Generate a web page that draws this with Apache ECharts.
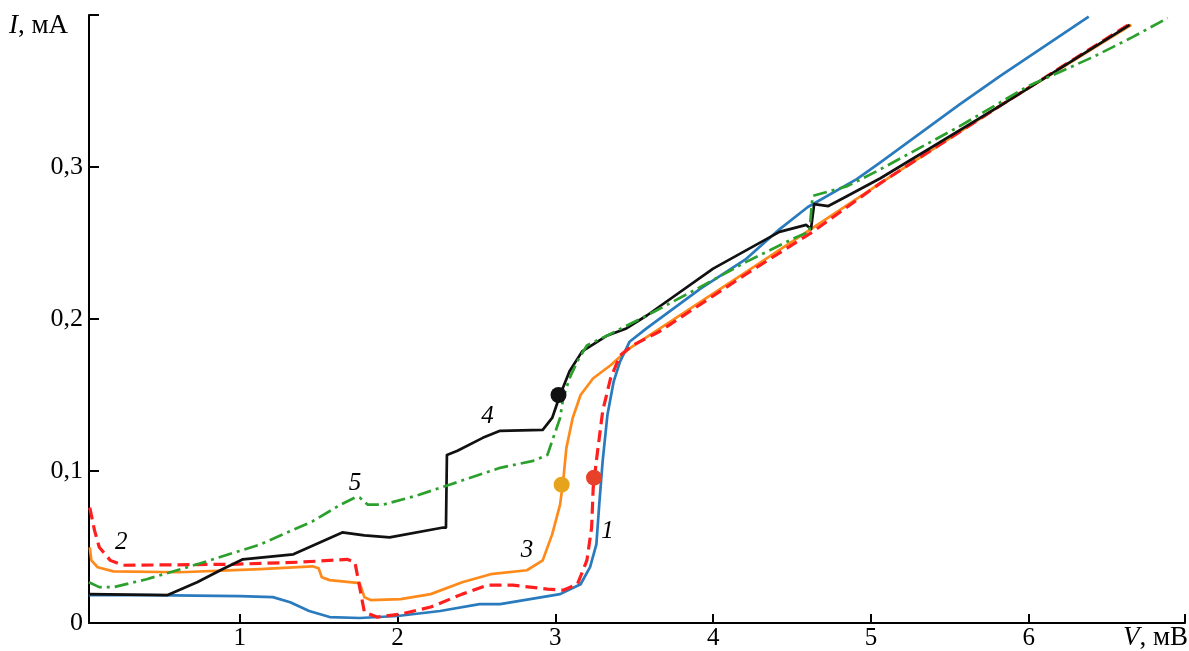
<!DOCTYPE html>
<html>
<head>
<meta charset="utf-8">
<script src="https://cdn.jsdelivr.net/npm/echarts@6/dist/echarts.min.js"></script>
<style>
html,body{margin:0;padding:0;background:#fff;}
#chart{width:1189px;height:651px;}
</style>
</head>
<body>
<div id="chart"></div>
<script>
// Curve 1 (blue, solid)
const v1 = [0.044,0.43,1.0,1.21,1.32,1.44,1.57,1.76,2.0,2.27,2.52,2.65,2.84,3.03,3.16,3.22,3.26,3.28,3.30,3.33,3.37,3.41,3.47,3.58,3.92,4.21,4.42,4.60,4.91,5.06,5.56,5.82,6.38];
const i1 = [0.0183,0.0183,0.0177,0.017,0.0137,0.0079,0.0039,0.0033,0.0046,0.0079,0.0124,0.0124,0.0157,0.019,0.0255,0.0367,0.0517,0.0805,0.1067,0.1368,0.159,0.172,0.185,0.194,0.22,0.2396,0.259,0.2737,0.292,0.303,0.341,0.360,0.399];
// Curve 2 (red, dashed)
const v2 = [0.05,0.08,0.11,0.18,0.26,0.94,1.38,1.68,1.73,1.76,1.79,1.87,2.02,2.21,2.41,2.57,2.73,2.95,3.05,3.14,3.20,3.23,3.24,3.26,3.30,3.35,3.41,3.49,3.66,4.21,4.63,5.06,5.82,6.65];
const i2 = [0.0759,0.0609,0.0498,0.0412,0.038,0.0386,0.040,0.0419,0.040,0.0236,0.0072,0.0039,0.0059,0.0105,0.019,0.0249,0.0249,0.0223,0.0216,0.0255,0.0412,0.0628,0.089,0.1067,0.1394,0.161,0.176,0.1826,0.1918,0.2296,0.2573,0.2894,0.3404,0.3948];
// Curve 3 (orange, solid)
const v3 = [0.05,0.06,0.10,0.20,0.62,1.13,1.46,1.50,1.52,1.57,1.76,1.79,1.83,2.02,2.21,2.41,2.59,2.82,2.92,2.98,3.03,3.05,3.07,3.11,3.16,3.24,3.35,3.47,4.21,5.06,5.82,6.65];
const i3 = [0.0498,0.0412,0.0367,0.034,0.0334,0.0354,0.0373,0.036,0.0301,0.0282,0.0262,0.017,0.0151,0.0157,0.019,0.0268,0.0321,0.0347,0.0412,0.0583,0.0779,0.0936,0.1152,0.1349,0.15,0.161,0.1696,0.1807,0.231,0.2894,0.3404,0.3935];
// Curve 4 (black, solid)
const v4 = [0.044,0.54,0.73,0.89,1.02,1.34,1.65,1.79,1.95,2.29,2.307,2.313,2.38,2.54,2.65,2.92,2.98,3.03,3.09,3.17,3.33,3.45,3.58,4.0,4.42,4.59,4.62,4.64,4.73,4.85,5.06,5.82,6.64];
const i4 = [0.019,0.0183,0.0268,0.0354,0.0419,0.0452,0.0596,0.0576,0.0563,0.0628,0.0628,0.1106,0.1133,0.1218,0.1264,0.127,0.1349,0.15,0.1656,0.1787,0.1892,0.1938,0.2023,0.2331,0.2573,0.2619,0.2592,0.2756,0.2743,0.2809,0.2926,0.3404,0.3935];
// Curve 5 (green, dash-dot)
const v5 = [0.044,0.11,0.20,0.41,0.73,1.13,1.46,1.64,1.73,1.76,1.81,1.91,2.12,2.33,2.65,2.86,2.95,2.98,3.03,3.05,3.09,3.14,3.20,3.33,3.58,3.90,4.21,4.53,4.61,4.63,4.85,5.06,5.56,5.99,6.41,6.66,6.88];
const i5 = [0.0268,0.0236,0.0236,0.0288,0.0386,0.0517,0.0668,0.0779,0.0825,0.0825,0.0779,0.0779,0.0838,0.091,0.1021,0.1067,0.1106,0.1198,0.1349,0.148,0.161,0.1722,0.1826,0.1892,0.2023,0.22,0.2376,0.254,0.2573,0.2809,0.2874,0.2985,0.3267,0.3529,0.3725,0.3856,0.398];
// Marked points
const dotV = [3.02, 3.04, 3.245];
const dotI = [0.150, 0.091, 0.0956];
const dotColors = ['#111111', '#e6a31c', '#e8412a'];
// Curve number labels
const curveNames = ['1','2','3','4','5'];
const curveLabelV = [3.33, 0.25, 2.82, 2.57, 1.73];
const curveLabelI = [0.060, 0.053, 0.048, 0.136, 0.092];
// Axis ticks
const xTicks = [1,2,3,4,5,6];
const yTicks = [0,0.1,0.2,0.3];
const yTickLabels = ['0','0,1','0,2','0,3'];

const XMIN = 0.045, XMAX = 6.99, YMIN = 0, YMAX = 0.4;
const pairs = (xs, ys) => xs.map((x, k) => [x, ys[k]]);
const FONT = 'Liberation Serif';

const chart = echarts.init(document.getElementById('chart'), null, {renderer: 'canvas'});
const lineSeries = (data, color, type, width, z) => ({
  type: 'line', data: data, showSymbol: false, symbol: 'none', smooth: false, z: z,
  lineStyle: {color: color, width: width, type: type, cap: 'butt', join: 'round', opacity: 1}, animation: false
});
chart.setOption({
  animation: false,
  grid: {left: 89, right: 4, top: 15, bottom: 25, containLabel: false},
  xAxis: {
    type: 'value', min: XMIN, max: XMAX,
    axisLine: {show: true, onZero: false, lineStyle: {color: '#000', width: 2}},
    axisTick: {show: true, inside: true, length: 9, lineStyle: {color: '#000', width: 2}, customValues: xTicks.concat([XMAX])},
    axisLabel: {show: true, customValues: xTicks, color: '#000', fontFamily: FONT, fontSize: 25, margin: 3},
    splitLine: {show: false}
  },
  yAxis: {
    type: 'value', min: YMIN, max: YMAX,
    axisLine: {show: true, onZero: false, lineStyle: {color: '#000', width: 2}},
    axisTick: {show: true, inside: true, length: 10, lineStyle: {color: '#000', width: 2}, customValues: [0.1,0.2,0.3,YMAX]},
    axisLabel: {show: true, customValues: yTicks, color: '#000', fontFamily: FONT, fontSize: 26, margin: 6,
      formatter: (v) => { const k = yTicks.findIndex(t => Math.abs(t - v) < 1e-9); return k >= 0 ? yTickLabels[k] : ''; }},
    splitLine: {show: false}
  },
  series: [
    lineSeries(pairs(v3, i3), '#ff8a1c', 'solid', 2.7, 2),
    lineSeries(pairs(v1, i1), '#2a7bbd', 'solid', 2.7, 3),
    lineSeries(pairs(v2, i2), '#ff1f1f', [12, 6], 3.2, 4),
    lineSeries(pairs(v4, i4), '#111111', 'solid', 2.7, 5),
    lineSeries(pairs(v5, i5), '#2ca02c', [14, 5, 3, 5], 2.7, 6),
    {
      type: 'scatter', z: 10, symbolSize: 16, animation: false,
      data: dotV.map((x, k) => ({value: [x, dotI[k]], itemStyle: {color: dotColors[k], opacity: 1}}))
    },
    {
      type: 'scatter', z: 11, symbolSize: 1, animation: false, itemStyle: {opacity: 0},
      data: curveNames.map((n, k) => ({value: [curveLabelV[k], curveLabelI[k]], name: n})),
      label: {show: true, position: 'inside', formatter: (p) => p.name, color: '#000', opacity: 1,
        fontFamily: FONT, fontStyle: 'italic', fontSize: 25}
    }
  ],
  graphic: [
    {type: 'text', left: 9, top: 12, style: {
      text: '{i|I}, мА', font: '27px "Liberation Serif"', fill: '#000',
      rich: {i: {fontStyle: 'italic', fontFamily: FONT, fontSize: 27, fill: '#000'}}}},
    {type: 'text', right: 1, top: 624, style: {
      text: '{i|V}, мВ', font: '27px "Liberation Serif"', fill: '#000',
      rich: {i: {fontStyle: 'italic', fontFamily: FONT, fontSize: 27, fill: '#000'}}}}
  ]
});
</script>
</body>
</html>
